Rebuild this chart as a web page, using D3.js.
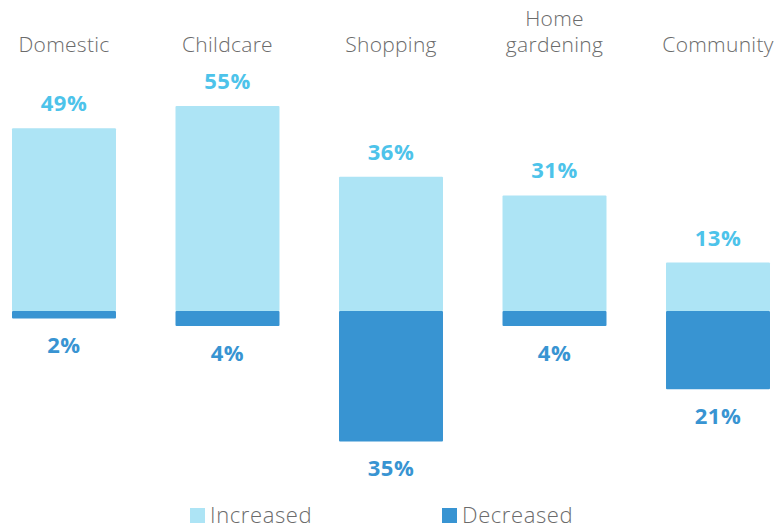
<!DOCTYPE html>
<html>
<head>
<meta charset="utf-8">
<script src="https://cdn.jsdelivr.net/npm/d3@7"></script>
<style>
  body { margin: 0; padding: 0; background: #fff; }
  svg { display: block; }
</style>
</head>
<body>
<svg id="chart" width="777" height="530"></svg>
<script>
// chart data
const categories = [["Domestic"], ["Childcare"], ["Shopping"], ["Home", "gardening"], ["Community"]];
const increased = [49, 55, 36, 31, 13];
const decreased = [2, 4, 35, 4, 21];
const legendLabels = ["Increased", "Decreased"];

const lightBlue = "#ade4f5";
const darkBlue = "#3894d2";
const lightText = "#4dc3ea";
const greyText = "#6b6b6b";
const font = "'Open Sans', 'Noto Sans', sans-serif";

const svg = d3.select("#chart");

const x = d3.scaleBand()
    .domain(d3.range(categories.length))
    .range([12, 770])
    .paddingInner(0.364)
    .paddingOuter(0);

// zero line at y=311, 55% reaches y=106
const y = d3.scaleLinear()
    .domain([0, 55])
    .range([311, 106]);

// category labels
const cat = svg.selectAll(".cat")
    .data(categories)
    .enter()
    .append("text")
    .attr("class", "cat")
    .attr("text-anchor", "middle")
    .style("font-family", font)
    .style("font-weight", 300)
    .style("font-size", "21px")
    .style("letter-spacing", "0.3px")
    .style("fill", greyText);
cat.each(function (lines, i) {
    const t = d3.select(this);
    lines.forEach((ln, j) => {
        t.append("tspan")
            .attr("x", x(i) + x.bandwidth() / 2)
            .attr("y", 52 - (lines.length - 1 - j) * 26)
            .text(ln);
    });
});

// increased bars
svg.selectAll(".inc")
    .data(increased)
    .enter()
    .append("rect")
    .attr("class", "inc")
    .attr("x", (d, i) => x(i))
    .attr("width", x.bandwidth())
    .attr("y", d => y(d))
    .attr("height", d => y(0) - y(d))
    .attr("rx", 1)
    .style("fill", lightBlue);

// decreased bars
svg.selectAll(".dec")
    .data(decreased)
    .enter()
    .append("rect")
    .attr("class", "dec")
    .attr("x", (d, i) => x(i))
    .attr("width", x.bandwidth())
    .attr("y", y(0))
    .attr("height", d => y(-d) - y(0))
    .attr("rx", 1)
    .style("fill", darkBlue);

// value labels
svg.selectAll(".incLab")
    .data(increased)
    .enter()
    .append("text")
    .attr("class", "incLab")
    .attr("x", (d, i) => x(i) + x.bandwidth() / 2)
    .attr("y", d => y(d) - 17)
    .attr("text-anchor", "middle")
    .style("font-family", font)
    .style("font-weight", 700)
    .style("font-size", "22px")
    .style("letter-spacing", "0.5px")
    .style("fill", lightText)
    .text(d => d + "%");

svg.selectAll(".decLab")
    .data(decreased)
    .enter()
    .append("text")
    .attr("class", "decLab")
    .attr("x", (d, i) => x(i) + x.bandwidth() / 2)
    .attr("y", d => y(-d) + 35)
    .attr("text-anchor", "middle")
    .style("font-family", font)
    .style("font-weight", 700)
    .style("font-size", "22px")
    .style("letter-spacing", "0.5px")
    .style("fill", darkBlue)
    .text(d => d + "%");

// legend
const legX = [190, 442];
const legColors = [lightBlue, darkBlue];
const leg = svg.selectAll(".leg")
    .data(legendLabels)
    .enter()
    .append("g")
    .attr("class", "leg")
    .attr("transform", (d, i) => `translate(${legX[i]},0)`);
leg.append("rect")
    .attr("x", 0)
    .attr("y", 508)
    .attr("width", 15)
    .attr("height", 15)
    .style("fill", (d, i) => legColors[i]);
leg.append("text")
    .attr("x", 20)
    .attr("y", 523)
    .style("font-family", font)
    .style("font-weight", 300)
    .style("font-size", "22px")
    .style("letter-spacing", "0.6px")
    .style("fill", greyText)
    .text(d => d);
</script>
</body>
</html>
